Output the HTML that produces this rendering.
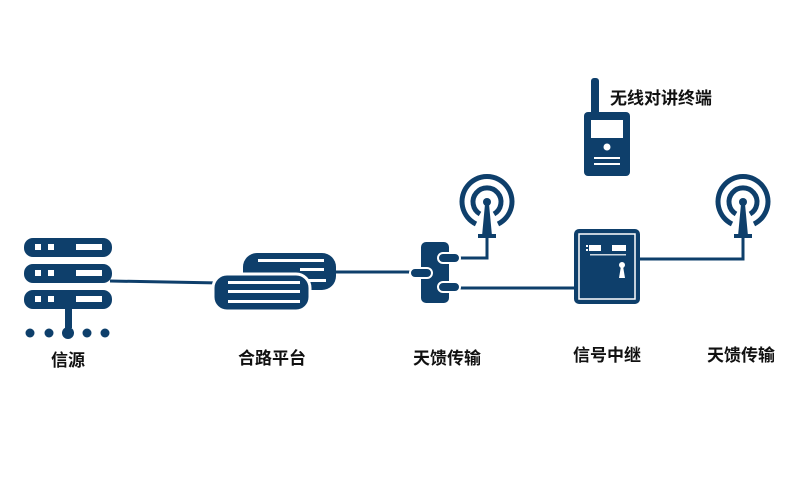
<!DOCTYPE html>
<html><head><meta charset="utf-8"><style>
html,body{margin:0;padding:0;background:#fff;}
svg{display:block}
text{font-family:"Liberation Sans","Noto Sans CJK SC",sans-serif;font-weight:bold;fill:#111;}
</style></head><body>
<svg width="800" height="500" viewBox="0 0 800 500" xmlns="http://www.w3.org/2000/svg">
<g fill="#0e3f6b" stroke="none">
<rect x="24" y="238" width="88" height="19" rx="9"/>
<rect x="24" y="264" width="88" height="19" rx="9"/>
<rect x="24" y="290" width="88" height="19" rx="9"/>
<rect x="65" y="308" width="7" height="20"/>
<circle cx="30" cy="333" r="4.5"/><circle cx="49" cy="333" r="4.5"/><circle cx="68" cy="333" r="6"/><circle cx="87" cy="333" r="4.5"/><circle cx="105" cy="333" r="4.5"/>
</g>
<g fill="#fff">
<rect x="35" y="244" width="6" height="6"/><rect x="48" y="244" width="6" height="6"/><rect x="76" y="244" width="26" height="6"/>
<rect x="35" y="270" width="6" height="6"/><rect x="48" y="270" width="6" height="6"/><rect x="76" y="270" width="26" height="6"/>
<rect x="35" y="296" width="6" height="6"/><rect x="48" y="296" width="6" height="6"/><rect x="76" y="296" width="26" height="6"/>
</g>
<g stroke="#0e3f6b" stroke-width="3" fill="none">
<line x1="110" y1="281" x2="220" y2="283"/>
<line x1="335" y1="272" x2="420" y2="272"/>
<polyline points="445,258 487,258 487,238"/>
<line x1="445" y1="288" x2="576" y2="288"/>
<polyline points="637,259 743,259 743,238"/>
</g>
<g fill="#0e3f6b">
<rect x="243" y="253" width="93" height="37" rx="14"/>
<rect x="213" y="274" width="97" height="37" rx="14" stroke="#fff" stroke-width="3"/>
</g>
<g fill="#fff">
<rect x="258" y="259" width="66" height="3"/><rect x="300" y="268" width="24" height="3"/><rect x="308" y="279" width="18" height="3"/>
<rect x="228" y="281" width="72" height="3"/><rect x="228" y="290" width="72" height="3"/><rect x="228" y="300" width="72" height="3"/>
</g>
<rect x="421" y="242" width="28" height="61" rx="5" fill="#0e3f6b"/>
<g fill="#0e3f6b" stroke="#fff" stroke-width="2">
<rect x="410" y="268" width="22" height="10" rx="5"/>
<rect x="438" y="253" width="22" height="10" rx="5"/>
<rect x="438" y="282" width="22" height="10" rx="5"/>
</g>
<g id="ant">
<g fill="none" stroke="#0e3f6b" stroke-width="5">
<path d="M476,224 A25,25 0 1 1 498,224"/>
<path d="M480,214 A14,14 0 1 1 494,214"/>
</g>
<circle cx="487" cy="202" r="4" fill="#0e3f6b"/>
<polygon points="485,204 489,204 492,236 482,236" fill="#0e3f6b"/>
<rect x="478" y="234" width="18" height="4" fill="#0e3f6b"/>
</g>
<use href="#ant" transform="translate(256,0)"/>
<rect x="574" y="229" width="66" height="75" rx="5" fill="#0e3f6b"/>
<rect x="579" y="234" width="56" height="65" fill="none" stroke="#fff" stroke-width="1.5"/>
<g fill="#fff">
<rect x="589" y="245" width="12" height="6"/><rect x="612" y="245" width="14" height="6"/>
<rect x="586" y="245" width="2" height="2"/><rect x="586" y="249" width="2" height="2"/>
<rect x="590" y="254" width="36" height="1.5" opacity="0.8"/>
<circle cx="622" cy="265" r="3"/><polygon points="621,266 623,266 625,278 619,278"/>
</g>
<rect x="591" y="78" width="8" height="40" rx="3" fill="#0e3f6b"/>
<rect x="584" y="112" width="46" height="64" rx="4" fill="#0e3f6b"/>
<g fill="#fff">
<rect x="591" y="120" width="32" height="18"/>
<circle cx="607" cy="147" r="3.5"/>
<rect x="594" y="157" width="26" height="2"/><rect x="594" y="163" width="26" height="2"/>
</g>
<g font-size="17">
<text x="68" y="366" text-anchor="middle">信源</text>
<text x="272" y="364" text-anchor="middle">合路平台</text>
<text x="447" y="364" text-anchor="middle">天馈传输</text>
<text x="607" y="361" text-anchor="middle">信号中继</text>
<text x="741" y="361" text-anchor="middle">天馈传输</text>
<text x="610" y="104">无线对讲终端</text>
</g>
</svg>
</body></html>
